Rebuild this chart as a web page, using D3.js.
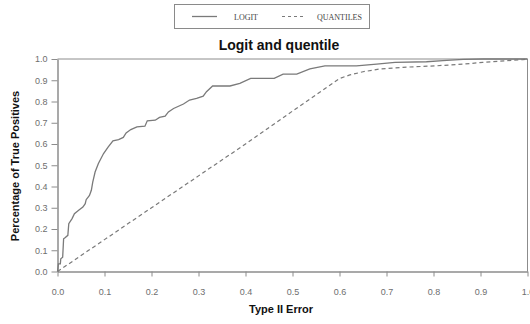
<!DOCTYPE html>
<html>
<head>
<meta charset="utf-8">
<script src="https://cdn.jsdelivr.net/npm/d3@7/dist/d3.min.js"></script>
<style>
  html, body { margin: 0; padding: 0; background: #fff; }
  svg { display: block; }
</style>
</head>
<body>
<svg id="chart" width="530" height="324"></svg>
<script>
// Type II error (x) vs. share of true positives (y)
const logitX = [0, 0.002, 0.006, 0.007, 0.011, 0.013, 0.016, 0.022, 0.024, 0.031, 0.036, 0.045,
  0.054, 0.059, 0.061, 0.068, 0.072, 0.075, 0.080, 0.087, 0.098, 0.108, 0.118, 0.130, 0.140,
  0.146, 0.156, 0.169, 0.186, 0.191, 0.208, 0.217, 0.229, 0.236, 0.247, 0.268, 0.281, 0.296,
  0.310, 0.317, 0.330, 0.367, 0.388, 0.411, 0.461, 0.480, 0.509, 0.537, 0.569, 0.636, 0.679,
  0.718, 0.785, 0.820, 0.863, 0.905, 1.0];
const logitY = [0, 0.036, 0.036, 0.060, 0.067, 0.154, 0.159, 0.170, 0.225, 0.249, 0.272, 0.288,
  0.303, 0.319, 0.338, 0.358, 0.382, 0.421, 0.468, 0.508, 0.555, 0.586, 0.615, 0.621, 0.631,
  0.652, 0.668, 0.681, 0.684, 0.709, 0.712, 0.725, 0.731, 0.751, 0.767, 0.788, 0.807, 0.815,
  0.825, 0.846, 0.873, 0.873, 0.885, 0.909, 0.909, 0.929, 0.929, 0.953, 0.968, 0.968, 0.976,
  0.984, 0.987, 0.992, 0.998, 1.0, 1.0];

const quantX = [0, 0.1, 0.2, 0.3, 0.4, 0.5, 0.6, 0.622, 0.65, 0.686, 0.735, 0.806, 0.863, 0.905, 0.955, 0.99, 1.0];
const quantY = [0, 0.15, 0.30, 0.45, 0.60, 0.755, 0.908, 0.925, 0.94, 0.953, 0.961, 0.968, 0.976, 0.984, 0.992, 0.997, 1.0];

const xTicks = [0, 0.1, 0.2, 0.3, 0.4, 0.5, 0.6, 0.7, 0.8, 0.9, 1.0];
const yTicks = [0, 0.1, 0.2, 0.3, 0.4, 0.5, 0.6, 0.7, 0.8, 0.9, 1.0];

const seriesNames = ["LOGIT", "QUANTILES"];
const titleText = "Logit and quentile";
const xLabel = "Type II Error";
const yLabel = "Percentage of True Positives";

const svg = d3.select("#chart");
const plotL = 57.5, plotR = 527.5, plotT = 59, plotB = 271.5;

const x = d3.scaleLinear().domain([0, 1]).range([plotL, plotR]);
const y = d3.scaleLinear().domain([0, 1]).range([plotB, plotT]);

const lineColor = "#7a7a7a";
const axisColor = "#8c8c8c";
const tickText = "#6e6e6e";

// plot frame (top and right)
svg.append("path")
  .attr("d", `M${plotL},${plotT}H${plotR}V${plotB}`)
  .attr("fill", "none").attr("stroke", axisColor).attr("stroke-width", 1);

// axes
const xAxis = svg.append("g").attr("transform", `translate(0,${plotB})`)
  .call(d3.axisBottom(x).tickValues(xTicks).tickSize(5).tickSizeOuter(0).tickFormat(d3.format(".1f")));
const yAxis = svg.append("g").attr("transform", `translate(${plotL},0)`)
  .call(d3.axisLeft(y).tickValues(yTicks).tickSize(6).tickSizeOuter(0).tickFormat(d3.format(".1f")));

[xAxis, yAxis].forEach(g => {
  g.select(".domain").attr("stroke", axisColor).attr("stroke-width", 1.5);
  g.selectAll(".tick line").attr("stroke", axisColor).attr("stroke-width", 1);
  g.selectAll(".tick text").attr("fill", tickText)
    .style("font-family", "Arial, 'Liberation Sans', sans-serif").style("font-size", "9px");
});
xAxis.selectAll(".tick text").attr("dy", "0").attr("y", 23);
yAxis.selectAll(".tick text").attr("x", -10);

// curves
const lineGen = d3.line().x(d => x(d[0])).y(d => y(d[1]));
const logitPts = logitX.map((v, i) => [v, logitY[i]]);
const quantPts = quantX.map((v, i) => [v, quantY[i]]);

svg.append("path").datum(quantPts).attr("d", lineGen)
  .attr("fill", "none").attr("stroke", lineColor).attr("stroke-width", 1.2)
  .attr("stroke-dasharray", "4,3");
svg.append("path").datum(logitPts).attr("d", lineGen)
  .attr("fill", "none").attr("stroke", lineColor).attr("stroke-width", 1.3);

// title
svg.append("text").attr("x", 279).attr("y", 50).attr("text-anchor", "middle")
  .style("font-family", "Arial, 'Liberation Sans', sans-serif").style("font-size", "14px")
  .style("font-weight", "bold").attr("fill", "#111").text(titleText);

// axis titles
svg.append("text").attr("x", 281).attr("y", 313).attr("text-anchor", "middle")
  .style("font-family", "Arial, 'Liberation Sans', sans-serif").style("font-size", "11px")
  .style("font-weight", "bold").attr("fill", "#111").text(xLabel);
svg.append("text").attr("transform", "translate(19,166) rotate(-90)").attr("text-anchor", "middle")
  .style("font-family", "Arial, 'Liberation Sans', sans-serif").style("font-size", "11px")
  .style("font-weight", "bold").attr("fill", "#111").text(yLabel);

// legend
const legend = svg.append("g");
legend.append("rect").attr("x", 174.5).attr("y", 4.5).attr("width", 195).attr("height", 24)
  .attr("fill", "#fff").attr("stroke", "#8a8a8a").attr("stroke-width", 1);
legend.append("line").attr("x1", 192).attr("x2", 217).attr("y1", 16.5).attr("y2", 16.5)
  .attr("stroke", lineColor).attr("stroke-width", 1.3);
legend.append("line").attr("x1", 282).attr("x2", 306).attr("y1", 16.5).attr("y2", 16.5)
  .attr("stroke", lineColor).attr("stroke-width", 1.2).attr("stroke-dasharray", "3,3");
legend.append("text").attr("x", 234).attr("y", 20)
  .style("font-family", "'Liberation Serif', 'Times New Roman', serif").style("font-size", "8px")
  .attr("fill", "#444").text(seriesNames[0]);
legend.append("text").attr("x", 317).attr("y", 20)
  .style("font-family", "'Liberation Serif', 'Times New Roman', serif").style("font-size", "8px")
  .attr("fill", "#444").text(seriesNames[1]);
</script>
</body>
</html>
